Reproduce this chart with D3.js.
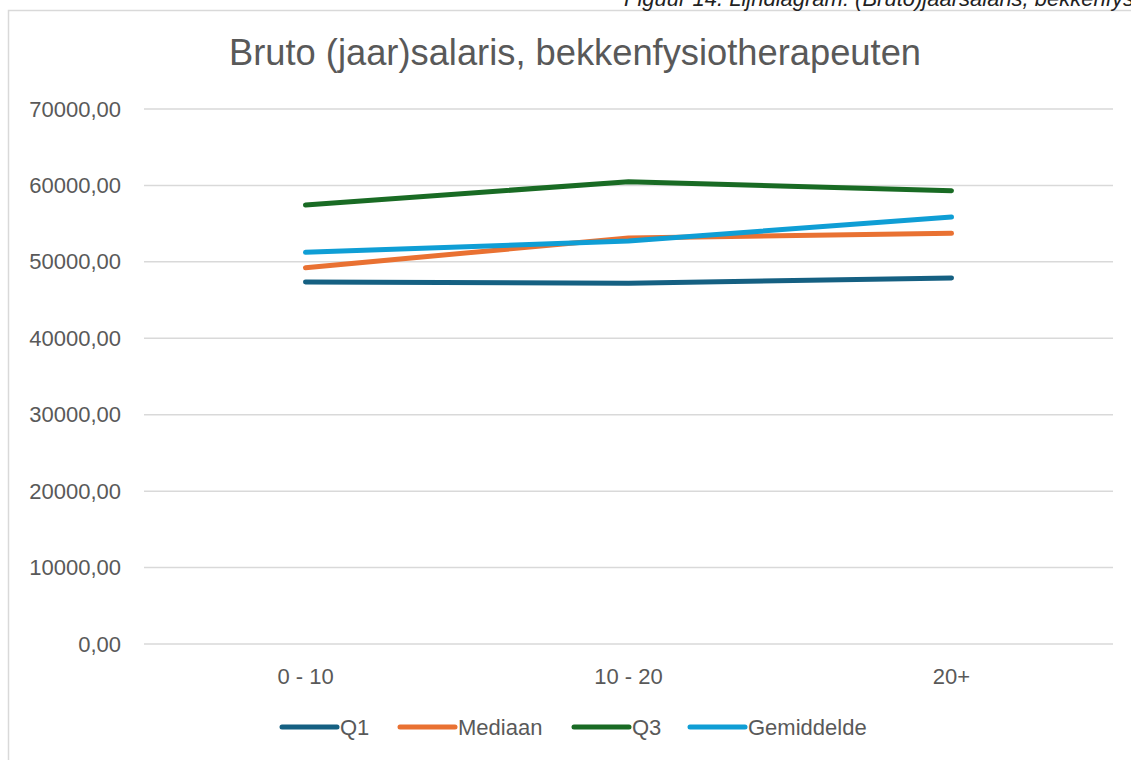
<!DOCTYPE html>
<html>
<head>
<meta charset="utf-8">
<script src="https://cdn.jsdelivr.net/npm/d3@7"></script>
<style>
  html, body { margin: 0; padding: 0; background: #fff; overflow: hidden; }
  svg { display: block; }
  text { font-family: "Liberation Sans", Arial, sans-serif; }
</style>
</head>
<body>
<svg id="chart" width="1131" height="760"></svg>
<script>
const categories = ["0 - 10", "10 - 20", "20+"];
const seriesNames = ["Q1", "Mediaan", "Q3", "Gemiddelde"];
const q1 = [47360, 47190, 47900];
const mediaan = [49240, 53120, 53730];
const q3 = [57440, 60490, 59310];
const gemiddelde = [51250, 52730, 55870];
const yTicks = [0, 10000, 20000, 30000, 40000, 50000, 60000, 70000];
const colors = ["#156082", "#E97132", "#196B24", "#0F9ED5"];

const seriesData = [q1, mediaan, q3, gemiddelde];

const svg = d3.select("#chart");

// chart border
svg.append("rect")
  .attr("x", 8.5).attr("y", 10.5)
  .attr("width", 1140).attr("height", 760)
  .attr("fill", "#fff").attr("stroke", "#d9d9d9").attr("stroke-width", 1.5);

// caption (cut off at the top of the page, as in the source)
svg.append("text")
  .attr("x", 624).attr("y", 6)
  .attr("font-size", 22).attr("font-style", "italic")
  .attr("fill", "#222")
  .text("Figuur 14. Lijndiagram: (Bruto)jaarsalaris, bekkenfysiotherapeuten");

// title
svg.append("text")
  .attr("x", 575).attr("y", 65)
  .attr("text-anchor", "middle")
  .attr("font-size", 36.3).attr("fill", "#595959")
  .text("Bruto (jaar)salaris, bekkenfysiotherapeuten");

const x = d3.scaleBand().domain(categories).range([144, 1113]);
const y = d3.scaleLinear().domain([0, 70000]).range([644, 109]);

const fmt = v => d3.format(".2f")(v).replace(".", ",");

// gridlines
svg.append("g").selectAll("line").data(yTicks).join("line")
  .attr("x1", 144).attr("x2", 1113)
  .attr("y1", d => y(d)).attr("y2", d => y(d))
  .attr("stroke", "#d9d9d9").attr("stroke-width", 1.5);

// y axis labels
const yAxis = d3.axisLeft(y).tickValues(yTicks).tickFormat(fmt).tickSize(0).tickPadding(0);
const gy = svg.append("g").attr("transform", "translate(121,0)").call(yAxis);
gy.select(".domain").remove();
gy.selectAll("text").attr("font-size", 22).attr("fill", "#595959")
  .attr("font-family", "'Liberation Sans', Arial, sans-serif");

// x axis labels
const xAxis = d3.axisBottom(x).tickSize(0).tickPadding(0);
const gx = svg.append("g").attr("transform", "translate(0,668)").call(xAxis);
gx.select(".domain").remove();
gx.selectAll("text").attr("font-size", 22).attr("fill", "#595959")
  .attr("font-family", "'Liberation Sans', Arial, sans-serif");

// lines
const line = d3.line()
  .x((d, i) => x(categories[i]) + x.bandwidth() / 2)
  .y(d => y(d));

svg.append("g").selectAll("path").data(seriesData).join("path")
  .attr("d", d => line(d))
  .attr("fill", "none")
  .attr("stroke", (d, i) => colors[i])
  .attr("stroke-width", 5)
  .attr("stroke-linecap", "round")
  .attr("stroke-linejoin", "round");

// legend
const legendX = [282, 400, 574, 690];
const lg = svg.append("g");
seriesNames.forEach((name, i) => {
  lg.append("line")
    .attr("x1", legendX[i]).attr("x2", legendX[i] + 55)
    .attr("y1", 727).attr("y2", 727)
    .attr("stroke", colors[i]).attr("stroke-width", 5)
    .attr("stroke-linecap", "round");
  lg.append("text")
    .attr("x", legendX[i] + 58).attr("y", 735)
    .attr("font-size", 22).attr("fill", "#595959")
    .text(name);
});
</script>
</body>
</html>
